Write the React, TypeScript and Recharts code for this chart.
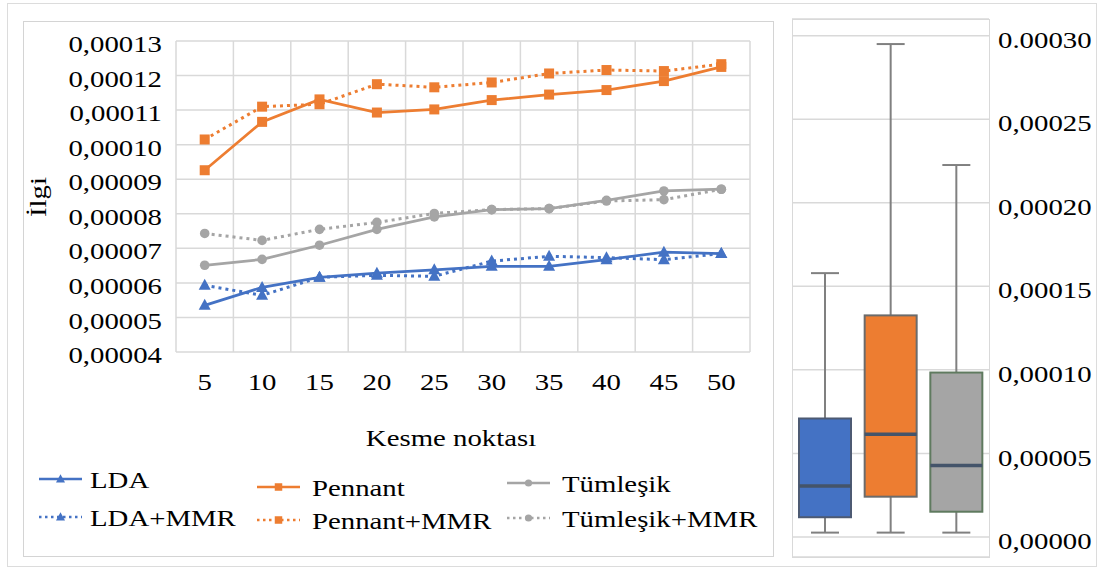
import React from 'react';
import { LineChart, Line, XAxis, YAxis, CartesianGrid, ComposedChart, Bar } from 'recharts';

// ---------- data ----------
const cutPoints = [5, 10, 15, 20, 25, 30, 35, 40, 45, 50];
const ldaValues = [0.0000535, 0.0000587, 0.0000616, 0.0000628, 0.0000638, 0.0000648, 0.0000648, 0.0000667, 0.0000689, 0.0000685];
const ldaMmrValues = [0.0000593, 0.0000564, 0.0000616, 0.0000622, 0.0000619, 0.0000663, 0.0000677, 0.0000673, 0.0000667, 0.0000685];
const pennantValues = [0.0000926, 0.0001066, 0.0001131, 0.0001093, 0.0001102, 0.0001129, 0.0001145, 0.0001158, 0.0001184, 0.0001225];
const pennantMmrValues = [0.0001015, 0.000111, 0.0001117, 0.0001175, 0.0001166, 0.000118, 0.0001206, 0.0001216, 0.0001213, 0.0001233];
const tumlesikValues = [0.0000651, 0.0000668, 0.0000709, 0.0000755, 0.0000791, 0.0000812, 0.0000815, 0.0000839, 0.0000866, 0.0000871];
const tumlesikMmrValues = [0.0000743, 0.0000723, 0.0000755, 0.0000775, 0.0000801, 0.0000812, 0.0000815, 0.0000837, 0.0000841, 0.0000871];

const leftTicks = [0.00004, 0.00005, 0.00006, 0.00007, 0.00008, 0.00009, 0.0001, 0.00011, 0.00012, 0.00013];
const leftTickLabels = ['0,00004', '0,00005', '0,00006', '0,00007', '0,00008', '0,00009', '0,00010', '0,00011', '0,00012', '0,00013'];

const boxCategories = ['LDA', 'Pennant', 'Tümleşik'];
const boxMin = [0.0000026, 0.0000026, 0.0000026];
const boxQ1 = [0.0000118, 0.0000241, 0.0000151];
const boxMedian = [0.0000305, 0.0000615, 0.0000428];
const boxQ3 = [0.0000709, 0.0001326, 0.0000984];
const boxMax = [0.0001579, 0.000295, 0.0002226];

const rightTicks = [0, 0.00005, 0.0001, 0.00015, 0.0002, 0.00025, 0.0003];
const rightTickLabels = ['0,00000', '0,00005', '0,00010', '0,00015', '0,00020', '0,00025', '0.00030'];

const xTitle = 'Kesme noktası';
const yTitle = 'İlgi';

// ---------- styles ----------
const BLUE = '#4472C4';
const ORANGE = '#ED7D31';
const GRAY = '#A5A5A5';
const FONT = 'Liberation Serif';
const FS = 24;
const SX = 1.2;

const boxFills = [BLUE, ORANGE, GRAY];
const boxStrokes = ['#4d5a73', '#6b6b6b', '#5f7a5f'];

type Marker = 'triangle' | 'square' | 'circle';

const series = [
  { key: 'lda', name: 'LDA', values: ldaValues, color: BLUE, dotted: false, marker: 'triangle' as Marker },
  { key: 'pennant', name: 'Pennant', values: pennantValues, color: ORANGE, dotted: false, marker: 'square' as Marker },
  { key: 'tumlesik', name: 'Tümleşik', values: tumlesikValues, color: GRAY, dotted: false, marker: 'circle' as Marker },
  { key: 'ldaMmr', name: 'LDA+MMR', values: ldaMmrValues, color: BLUE, dotted: true, marker: 'triangle' as Marker },
  { key: 'pennantMmr', name: 'Pennant+MMR', values: pennantMmrValues, color: ORANGE, dotted: true, marker: 'square' as Marker },
  { key: 'tumlesikMmr', name: 'Tümleşik+MMR', values: tumlesikMmrValues, color: GRAY, dotted: true, marker: 'circle' as Marker },
];

const lineData = cutPoints.map((c, i) => {
  const row: Record<string, number> = { cut: c };
  series.forEach((s) => {
    row[s.key] = s.values[i];
  });
  return row;
});

const boxData = boxCategories.map((name, i) => ({
  name,
  range: [boxMin[i], boxMax[i]],
  min: boxMin[i],
  q1: boxQ1[i],
  median: boxMedian[i],
  q3: boxQ3[i],
  max: boxMax[i],
}));

// ---------- helpers ----------
function SText({ x, y, anchor = 'start', children, rotate = 0, sx = SX }: any) {
  return (
    <g transform={`translate(${x},${y}) rotate(${rotate}) scale(${sx},1)`}>
      <text x={0} y={0} textAnchor={anchor} dominantBaseline="central" fontFamily={FONT} fontSize={FS} fill="#000">
        {children}
      </text>
    </g>
  );
}

function markerShape(kind: Marker, cx: number, cy: number, color: string, s = 1) {
  if (kind === 'triangle') {
    return <path d={`M${cx},${cy - 6.5 * s} L${cx + 6 * s},${cy + 4.5 * s} L${cx - 6 * s},${cy + 4.5 * s} Z`} fill={color} />;
  }
  if (kind === 'square') {
    return <rect x={cx - 5 * s} y={cy - 5 * s} width={10 * s} height={10 * s} fill={color} />;
  }
  return <circle cx={cx} cy={cy} r={4.8 * s} fill={color} />;
}

const makeDot = (kind: Marker, color: string) => (props: any) => {
  const { cx, cy, index } = props;
  if (cx == null || cy == null) return <g key={`e${index}`} />;
  return <g key={`d${index}`}>{markerShape(kind, cx, cy, color)}</g>;
};

const LeftTick = (props: any) => {
  const { x, y, index } = props;
  return <SText x={x - 6} y={y + 3} anchor="end">{leftTickLabels[index]}</SText>;
};

const BottomTick = (props: any) => {
  const { x, y, payload } = props;
  return <SText x={x} y={y + 22} anchor="middle">{String(payload.value)}</SText>;
};

const RightTick = (props: any) => {
  const { x, y, index } = props;
  return <SText x={x + 1} y={y + 4} anchor="start">{rightTickLabels[index]}</SText>;
};

const BoxShape = (props: any) => {
  const { x, y, width, height, payload } = props;
  const i = boxCategories.indexOf(payload.name);
  const { min, max, q1, q3, median } = payload;
  const py = (v: number) => y + ((max - v) / (max - min)) * height;
  const cx = x + width / 2;
  const cap = 14;
  return (
    <g>
      <line x1={cx} x2={cx} y1={py(max)} y2={py(min)} stroke="#808080" strokeWidth={2} />
      <line x1={cx - cap} x2={cx + cap} y1={py(max)} y2={py(max)} stroke="#808080" strokeWidth={2} />
      <line x1={cx - cap} x2={cx + cap} y1={py(min)} y2={py(min)} stroke="#808080" strokeWidth={2} />
      <rect x={x} y={py(q3)} width={width} height={py(q1) - py(q3)} fill={boxFills[i]} stroke={boxStrokes[i]} strokeWidth={2} />
      <line x1={x} x2={x + width} y1={py(median)} y2={py(median)} stroke="#44546A" strokeWidth={3.5} />
    </g>
  );
};

const legendCols = [
  { sx: 39, tx: 90 },
  { sx: 257, tx: 312 },
  { sx: 507, tx: 562 },
];
const legendRowY = [
  [480, 488, 484],
  [518, 521, 519],
];

export default function App() {
  return (
    <div style={{ position: 'absolute', left: 0, top: 0, width: 1101, height: 571, background: '#fff', overflow: 'hidden' }}>
      {/* frames */}
      <div style={{ position: 'absolute', left: 7, top: 3, width: 1090, height: 564, border: '1.5px solid #dcdcdc', boxSizing: 'border-box' }} />
      <div style={{ position: 'absolute', left: 23, top: 21, width: 751, height: 536, border: '1.5px solid #d4d4d4', boxSizing: 'border-box' }} />

      <div style={{ position: 'absolute', left: 0, top: 0 }}>
        <LineChart width={780} height={571} data={lineData} margin={{ top: 41, right: 30, bottom: 119, left: 26 }}>
          <CartesianGrid
            stroke="#d9d9d9"
            strokeWidth={1.5}
            verticalCoordinatesGenerator={(p: any) => {
              const left = p?.offset?.left ?? 176;
              const w = p?.offset?.width ?? 574;
              return cutPoints.map((_, i) => left + (i * w) / cutPoints.length).concat([left + w]);
            }}
          />
          <XAxis
            dataKey="cut"
            padding={{ left: 28.7, right: 28.7 }}
            axisLine={false}
            tickLine={false}
            tick={BottomTick}
            interval={0}
            height={100}
          />
          <YAxis
            domain={[0.00004, 0.00013]}
            ticks={leftTicks}
            axisLine={false}
            tickLine={false}
            tick={LeftTick}
            interval={0}
            width={150}
          />
          {series.map((s) => (
            <Line
              key={s.key}
              dataKey={s.key}
              type="linear"
              stroke={s.color}
              strokeWidth={s.dotted ? 3 : 2.75}
              strokeDasharray={s.dotted ? '3 4' : undefined}
              dot={makeDot(s.marker, s.color)}
              activeDot={false}
              isAnimationActive={false}
            />
          ))}
        </LineChart>
      </div>

      <div style={{ position: 'absolute', left: 780, top: 0 }}>
        <ComposedChart width={321} height={571} data={boxData} margin={{ top: 19, right: 12, bottom: 14, left: 12 }}>
          <CartesianGrid vertical={false} stroke="#d9d9d9" strokeWidth={1.5} />
          <XAxis dataKey="name" hide />
          <YAxis
            orientation="right"
            domain={[-0.000012, 0.00031]}
            ticks={rightTicks}
            axisLine={false}
            tickLine={false}
            tick={RightTick}
            interval={0}
            width={100}
          />
          <Bar dataKey="range" barSize={52} shape={BoxShape} isAnimationActive={false} />
        </ComposedChart>
      </div>
      <div style={{ position: 'absolute', left: 792, top: 19, width: 198, height: 539, border: '1.5px solid #d9d9d9', boxSizing: 'border-box' }} />

      {/* titles & legend */}
      <svg width={1101} height={571} style={{ position: 'absolute', left: 0, top: 0, pointerEvents: 'none' }}>
        <SText x={451} y={438} anchor="middle">{xTitle}</SText>
        <SText x={38} y={197} anchor="middle" rotate={-90}>{yTitle}</SText>
        {series.map((s, idx) => {
          const col = legendCols[idx % 3];
          const row = Math.floor(idx / 3);
          const yy = legendRowY[row][idx % 3];
          const sy = yy - 1;
          return (
            <g key={s.key}>
              <line
                x1={col.sx}
                x2={col.sx + 43}
                y1={sy}
                y2={sy}
                stroke={s.color}
                strokeWidth={2.5}
                strokeDasharray={s.dotted ? '2.5 3.5' : undefined}
              />
              {markerShape(s.marker, col.sx + 21.5, sy, s.color, 0.75)}
              <SText x={col.tx} y={yy} anchor="start">{s.name}</SText>
            </g>
          );
        })}
      </svg>
    </div>
  );
}
